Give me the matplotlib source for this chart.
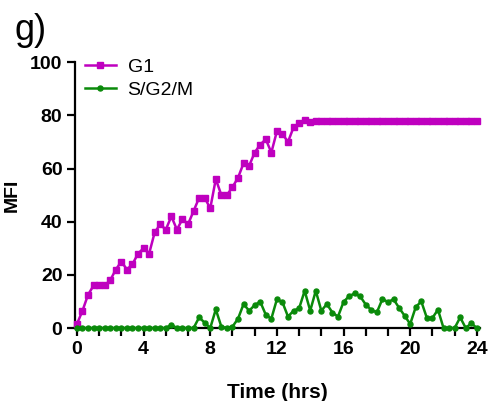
import matplotlib
matplotlib.use("Agg")
import matplotlib.pyplot as plt
import numpy as np
from matplotlib.ticker import MultipleLocator

plt.rcParams['font.family'] = ['Liberation Sans', 'DejaVu Sans']

# sampled every 20 min, 0-24 h
time_hrs = np.linspace(0, 24, 73)

g1 = [1.5, 6.5, 12.5, 16, 16, 16, 18, 22, 25, 22, 24, 28, 30, 28, 36, 39, 37,
      42, 37, 41, 39, 44, 49, 49, 45, 56, 50, 50, 53, 56.5, 62, 61, 66, 69, 71,
      66, 74, 73, 70, 75.5, 77, 78.4, 77.5, 78,
      78, 78, 78, 78, 78, 78, 78, 78, 78, 78, 78, 78, 78, 78, 78, 78, 78, 78,
      78, 78, 78, 78, 78, 78, 78, 78, 78, 78, 78]

s_g2_m = [0, 0, 0, 0, 0, 0, 0, 0, 0, 0, 0, 0, 0, 0, 0, 0, 0, 1.2, 0, 0, 0, 0,
          4, 2, 0, 7, 0.5, 0, 0.5, 3.5, 9, 6.5, 8.6, 9.9, 5, 3.5, 10.8, 9.7,
          4.3, 6.5, 7.4, 14, 6.5, 14, 6.5, 9, 5.8, 4.3, 9.8, 12, 13, 11.9, 8.8,
          6.8, 5.9, 10.9, 9.8, 10.8, 7.6, 4.6, 1.5, 7.9, 10, 3.8, 3.8, 6.9, 0,
          0, 0, 4, 0, 1.8, 0]

fig = plt.figure(figsize=(4.93, 4.01), dpi=100)
ax = fig.add_axes([0.152, 0.182, 0.822, 0.663])

ax.plot(time_hrs, g1, color="#BF00BF", lw=1.8, marker="s", ms=4.2,
        label="G1", clip_on=False, zorder=3)
ax.plot(time_hrs, s_g2_m, color="#0A8A0A", lw=1.8, marker="o", ms=3.6,
        label="S/G2/M", clip_on=False, zorder=4)

ax.set_xlim(-0.12, 24.2)
ax.set_ylim(0, 100)
ax.xaxis.set_major_locator(MultipleLocator(4))
ax.xaxis.set_minor_locator(MultipleLocator(4 / 3))
ax.yaxis.set_major_locator(MultipleLocator(20))

for s in ["top", "right"]:
    ax.spines[s].set_visible(False)
for s in ["left", "bottom"]:
    ax.spines[s].set_linewidth(1.6)

ax.tick_params(which="both", direction="out", length=6, width=1.6,
               labelsize=14, pad=3)
for lab in ax.get_xticklabels() + ax.get_yticklabels():
    lab.set_fontweight("bold")

ax.set_xlabel("Time (hrs)", fontsize=15, fontweight="bold", labelpad=18)
ax.set_ylabel("MFI", fontsize=14, fontweight="bold", labelpad=7)

ax.legend(loc="upper left", bbox_to_anchor=(0.005, 1.045), frameon=False,
          fontsize=14, handlelength=1.6, handletextpad=0.6, labelspacing=0.3,
          borderaxespad=0)

fig.text(0.03, 0.9, "g)", fontsize=26)

fig.savefig("out.png", dpi=100)
